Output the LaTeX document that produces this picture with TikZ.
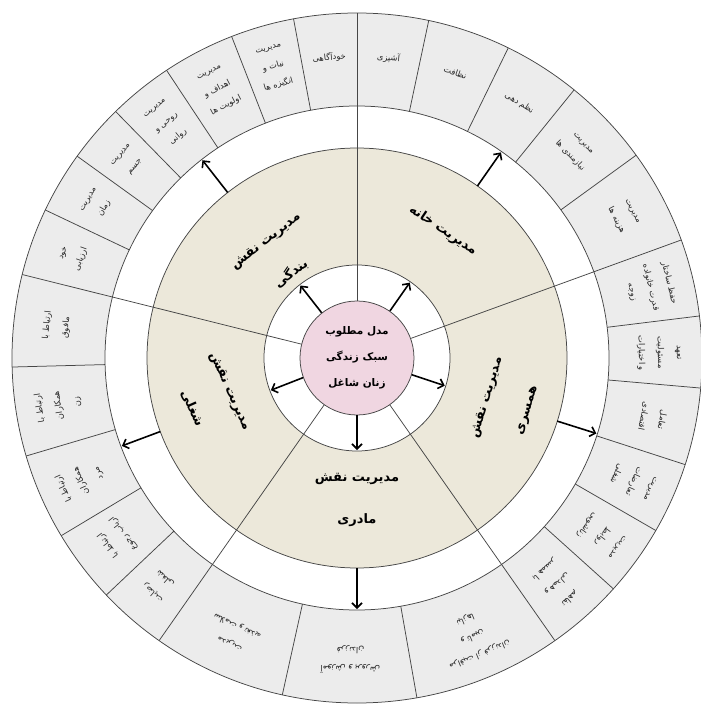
\documentclass[tikz,border=0pt]{standalone}
\usepackage{fontspec}
\usepackage{tikz}
\usetikzlibrary{arrows.meta}
\newfontfamily\farsi[Script=Arabic]{DejaVu Sans}
\TeXXeTstate=1
\newcommand{\fa}[1]{\beginR #1\endR}
\definecolor{ringgrey}{RGB}{236,236,236}
\definecolor{sandbeige}{RGB}{236,232,218}
\definecolor{rosepink}{RGB}{240,214,225}
\definecolor{edgegrey}{RGB}{70,70,70}

\begin{document}
\begin{tikzpicture}[
divline/.style={draw=edgegrey, line width=0.75pt},
arr/.style={-{Straight Barb[length=5pt,width=10pt]}, line width=1.6pt, black},
cell/.style={font=\farsi\fontsize{8.3}{19}\selectfont, align=center, inner sep=0pt, text=black!85},
role/.style={font=\farsi\bfseries\fontsize{13}{42}\selectfont, align=center, inner sep=0pt},
hub/.style={circle, minimum size=114pt, fill=rosepink, draw=edgegrey, line width=0.75pt,
  font=\farsi\bfseries\fontsize{10.5}{26}\selectfont, align=center}
]

\def \rpink {57pt}
\def \rwhite {93pt}
\def \rsand {210pt}
\def \rring {252pt}
\def \rout {345pt}
\def \rtext {302pt}

\useasboundingbox (-357pt,-346pt) rectangle (344pt,358pt);

% rings
\fill[ringgrey] (0,0) circle (\rout);
\fill[white] (0,0) circle (\rring);
\fill[sandbeige] (0,0) circle (\rsand);
\fill[white] (0,0) circle (\rwhite);
\foreach \r in {\rout,\rring,\rsand,\rwhite}
  \draw[divline] (0,0) circle (\r);

% five sectors
\foreach \a in {90,166,235,305,20}
  \draw[divline] (\a:\rpink) -- (\a:\rout);

% cells of the outer ring
\foreach \a in {100.6,111.3,123.5,134.4,144.2,154.6,
                78,64,51,36,
                7,-5,-18,-30,-42,
                257.5,280,
                181.5,196.5,211,223.4}
  \draw[divline] (\a:\rring) -- (\a:\rout);

\node[hub] (model) at (0,0) {\fa{مدل مطلوب}\\\fa{سبک زندگی}\\\fa{زنان شاغل}};

% arrows
\foreach \a [count=\i] in {128,55,-17.5,200.5,270}
{
  \coordinate (mid\i) at (\a:\rwhite-1pt);
  \coordinate (sand\i) at (\a:\rsand);
  \coordinate (ring\i) at (\a:\rring-1pt);
  \draw[arr] (model.\a) -- (mid\i);
  \draw[arr] (sand\i) -- (ring\i);
}

% roles
\node[role, rotate=38] (bandegi) at (128:127pt) {\fa{مدیریت نقش}\\\fa{بندگی}};
\node[role, rotate=-34] (khane) at (56:154pt) {\fa{مدیریت خانه}};
\node[role, rotate=73] (hamsari) at (-17:157pt) {\fa{مدیریت نقش}\\\fa{همسری}};
\node[role, rotate=-66] (shoghli) at (196:152pt) {\fa{مدیریت نقش}\\\fa{شغلی}};
\node[role] (madari) at (270:142pt) {\fa{مدیریت نقش}\\\fa{مادری}};

% labels of the cells
\foreach \a/\txt [count=\i] in {
  95.3/{\fa{خودآگاهی}},
  106/{\fa{مدیریت}\\\fa{نیات و}\\\fa{انگیزه ها}},
  117.4/{\fa{مدیریت}\\\fa{اهداف و}\\\fa{اولویت ها}},
  129/{\fa{مدیریت}\\\fa{روحی و}\\\fa{روانی}},
  139.3/{\fa{مدیریت}\\\fa{جسم}},
  149.4/{\fa{مدیریت}\\\fa{زمان}},
  160.3/{\fa{خود}\\\fa{ارزیابی}},
  84/{\fa{آشپزی}},
  71/{\fa{نظافت}},
  57.5/{\fa{نظم دهی}},
  43.5/{\fa{مدیریت}\\\fa{نیازمندی ها}},
  28/{\fa{مدیریت}\\\fa{هزینه ها}},
  13.5/{\fa{حفظ ساختار}\\\fa{قدرت خانواده}\\\fa{زوجه}},
  1/{\fa{تعهد}\\\fa{مسئولیت}\\\fa{و اختیارات}},
  -11.5/{\fa{تعامل}\\\fa{اقتصادی}},
  -24/{\fa{مدیریت}\\\fa{تعارضات}\\\fa{شغلی}},
  -36/{\fa{مدیریت}\\\fa{روابط}\\\fa{زناشویی}},
  -48.5/{\fa{تفاهم}\\\fa{و همدلی}\\\fa{با همسر}},
  -67.5/{\fa{مراقبت از فرزندان}\\\fa{و تامین}\\\fa{نیازها}},
  -91.25/{\fa{آموزش و پرورش}\\\fa{فرزندان}},
  -114/{\fa{مدیریت}\\\fa{سلامت و تغذیه}},
  229/{\fa{رضایت}\\\fa{شغلی}},
  217/{\fa{ارتباط با}\\\fa{ارباب رجوع}},
  204/{\fa{ارتباط با}\\\fa{همکاران}\\\fa{مرد}},
  189/{\fa{ارتباط با}\\\fa{همکاران}\\\fa{زن}},
  174/{\fa{ارتباط با}\\\fa{مافوق}}}
  \node[cell, rotate=\a-90] (cell\i) at (\a:\rtext) {\txt};

\end{tikzpicture}
\end{document}
